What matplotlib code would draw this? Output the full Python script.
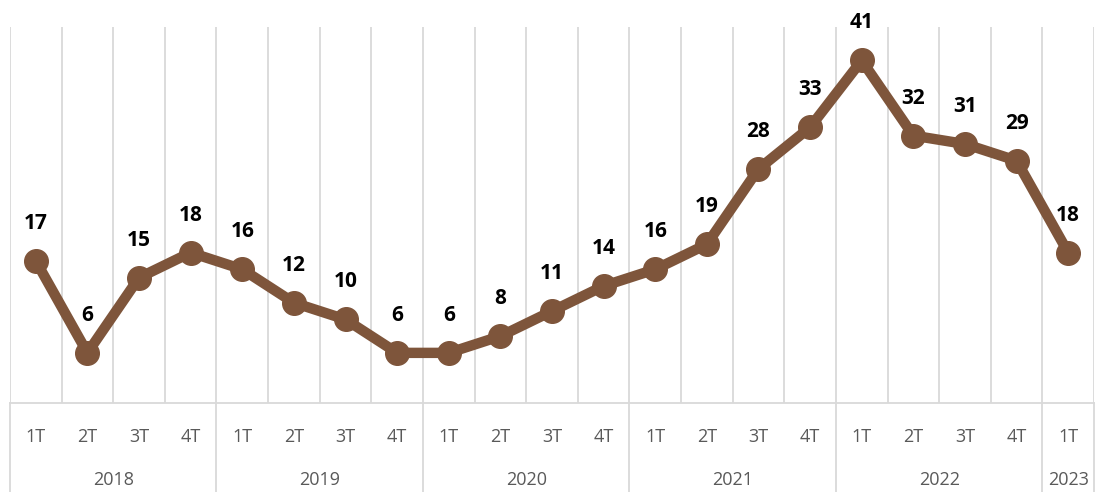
import matplotlib.pyplot as plt
import matplotlib.transforms as mtransforms

quarters = ["1T", "2T", "3T", "4T"] * 5 + ["1T"]
years = ["2018", "2019", "2020", "2021", "2022", "2023"]
year_sizes = [4, 4, 4, 4, 4, 1]
values = [17, 6, 15, 18, 16, 12, 10, 6, 6, 8, 11, 14, 16, 19, 28, 33, 41, 32, 31, 29, 18]

line_color = "#7E553B"
grid_color = "#D9D9D9"
text_color = "#595959"

plt.rcParams['font.family'] = ['Open Sans', 'DejaVu Sans']

fig = plt.figure(figsize=(10.95, 4.92), dpi=100)
ax = fig.add_axes([10 / 1095, 89 / 492, 1084 / 1095, 376 / 492])

n = len(values)
x = list(range(n))
ax.plot(x, values, color=line_color, linewidth=7.5, marker="o", markersize=17,
        solid_capstyle="round", zorder=3)
for xi, v in zip(x, values):
    ax.annotate(str(v), (xi, v), xytext=(0, 27), textcoords="offset points",
                ha="center", va="center", fontsize=15, fontweight="bold", color="black")

ax.set_xlim(-0.5, n - 0.5)
ax.set_ylim(0, 45)

# vertical gridlines between categories
for b in range(n + 1):
    ax.axvline(b - 0.5, color=grid_color, linewidth=1.3, zorder=0)

for s in ["top", "right", "left"]:
    ax.spines[s].set_visible(False)
ax.spines["bottom"].set_color(grid_color)
ax.spines["bottom"].set_linewidth(1.3)
ax.set_yticks([])
ax.set_xticks([])

trans = mtransforms.blended_transform_factory(ax.transData, ax.transAxes)
for xi, q in zip(x, quarters):
    ax.text(xi, -0.09, q, transform=trans, ha="center", va="center",
            fontsize=13, color=text_color)

start = 0
bounds = [-0.5]
for yr, size in zip(years, year_sizes):
    center = start + (size - 1) / 2
    ax.text(center, -0.205, yr, transform=trans, ha="center", va="center",
            fontsize=13, color=text_color)
    start += size
    bounds.append(start - 0.5)

for b in bounds:
    ax.plot([b, b], [0, -0.25], transform=trans, color=grid_color,
            linewidth=1.3, clip_on=False)

plt.savefig("out.png", dpi=100)
